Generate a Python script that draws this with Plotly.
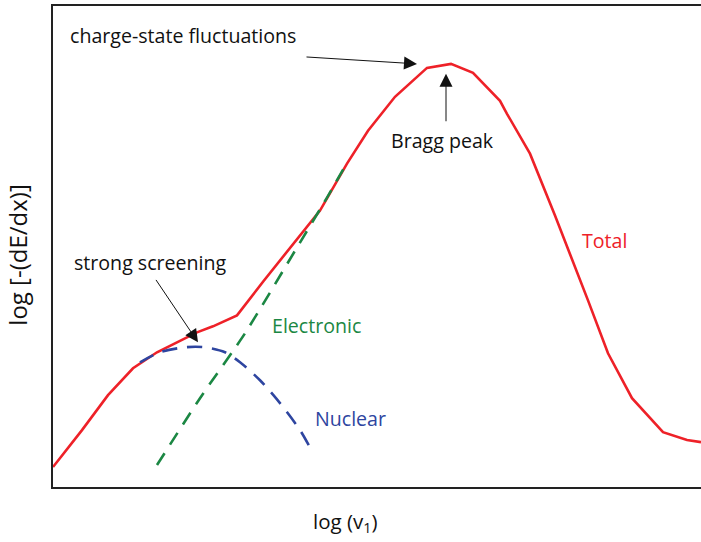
import plotly.graph_objects as go

# Data (arbitrary units: x = log v1, y = log stopping)
total_x = [0, 29, 55, 80, 104, 144, 160, 184, 211, 243, 267, 294, 315, 342, 374, 398, 420, 447, 454, 477, 502, 535, 555, 579, 610, 634, 648]
total_y = [20, 57, 92, 119, 135, 155, 161, 172, 207, 247, 277, 324, 357, 391, 420, 424, 415, 387, 374, 334, 272, 187, 134, 89, 55, 47, 45]

elec_x = [104, 147, 192, 244, 274, 294]
elec_y = [22, 89, 154, 240, 290, 325]

nucl_x = [87, 107, 132, 152, 172, 187, 207, 227, 247, 260]
nucl_y = [125, 135, 140, 140, 135, 125, 107, 84, 57, 34]

RED = "#EE2128"
GREEN = "#1B8743"
BLUE = "#2E45A0"
FONT = "Open Sans"
FS = 19.6

fig = go.Figure()
fig.add_trace(go.Scatter(x=total_x, y=total_y, mode="lines",
                         line=dict(color=RED, width=2.6), hoverinfo="skip"))
fig.add_trace(go.Scatter(x=elec_x, y=elec_y, mode="lines",
                         line=dict(color=GREEN, width=2.6, dash="14px,10px", shape="spline", smoothing=0.6),
                         hoverinfo="skip"))
fig.add_trace(go.Scatter(x=nucl_x, y=nucl_y, mode="lines",
                         line=dict(color=BLUE, width=2.6, dash="15px,10px", shape="spline", smoothing=0.8),
                         hoverinfo="skip"))

ann = []
def txt(x, y, s, color="#111", anchor="left", size=FS):
    ann.append(dict(x=x, y=y, xref="x", yref="y", text=s, showarrow=False,
                    xanchor=anchor, yanchor="middle",
                    font=dict(family=FONT, size=size, color=color)))

def arrow(tx, ty, hx, hy):
    ann.append(dict(x=hx, y=hy, ax=tx, ay=ty, xref="x", yref="y", axref="x", ayref="y",
                    text="", showarrow=True, arrowhead=2, arrowsize=2.6, arrowwidth=1,
                    arrowcolor="#111", standoff=0))

txt(15, 452, "charge-state fluctuations")
txt(389, 347, "Bragg peak", anchor="center")
txt(19, 225, "strong screening")
txt(217, 162, "Electronic", color=GREEN)
txt(260, 69, "Nuclear", color=BLUE)
txt(527, 247, "Total", color=RED)

arrow(252, 431, 364, 424)
arrow(393, 365, 393, 414)
arrow(102, 209, 145, 145)

ann.append(dict(x=-0.054, y=0.481, xref="paper", yref="paper", text="log [-(dE/dx)]",
                textangle=-90, showarrow=False, xanchor="center", yanchor="middle",
                font=dict(family=FONT, size=24, color="#111")))
ann.append(dict(x=292, y=-0.0726, xref="x", yref="paper", text="log (v<sub>1</sub>)",
                showarrow=False, xanchor="center", yanchor="middle",
                font=dict(family=FONT, size=20.5, color="#111")))

fig.update_layout(
    width=701, height=542,
    margin=dict(l=53, r=0, t=6, b=55),
    paper_bgcolor="white", plot_bgcolor="white",
    showlegend=False,
    annotations=ann,
)
fig.update_xaxes(range=[0, 648], showgrid=False, zeroline=False, showticklabels=False,
                 ticks="", showline=True, mirror=True, linecolor="#222", linewidth=2)
fig.update_yaxes(range=[0, 482], showgrid=False, zeroline=False, showticklabels=False,
                 ticks="", showline=True, linecolor="#222", linewidth=2)

fig.write_html("out.html", config={"displayModeBar": False},
               post_script="document.body.style.margin='0';document.body.style.overflow='hidden';")
